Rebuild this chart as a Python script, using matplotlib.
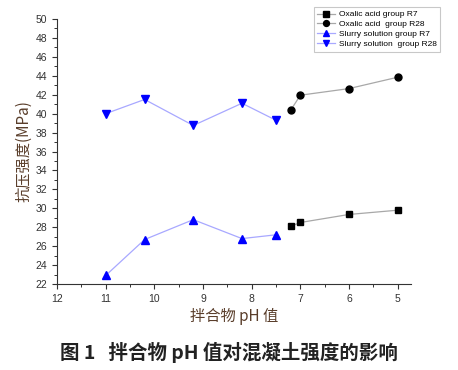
import matplotlib.pyplot as plt
from matplotlib.ticker import MultipleLocator

plt.rcParams['font.family'] = ['Noto Sans CJK SC', 'DejaVu Sans']

# data
ox_ph = [7.2, 7.0, 6.0, 5.0]
ox_r7 = [28.1, 28.5, 29.35, 29.8]
ox_r28 = [40.35, 41.95, 42.65, 43.85]

sl_ph = [11.0, 10.2, 9.2, 8.2, 7.5]
sl_r7 = [22.9, 26.7, 28.8, 26.8, 27.2]
sl_r28 = [40.0, 41.5, 38.75, 41.1, 39.3]

series_names = ["Oxalic acid group R7", "Oxalic acid  group R28",
                "Slurry solution group R7", "Slurry solution  group R28"]

x_label = "拌合物 pH 值"
y_label = "抗压强度(MPa)"
caption = "图 1   拌合物 pH 值对混凝土强度的影响"

fig = plt.figure(figsize=(4.58, 3.70), dpi=100)
ax = fig.add_axes([0.1245, 0.2324, 0.7725, 0.7162])

ax.plot(ox_ph, ox_r7, color="#a8a8a8", lw=0.9, marker="s", ms=4.5,
        mfc="black", mec="black", label=series_names[0])
ax.plot(ox_ph, ox_r28, color="#a8a8a8", lw=0.9, marker="o", ms=5,
        mfc="black", mec="black", label=series_names[1])
ax.plot(sl_ph, sl_r7, color="#a8a8ff", lw=0.9, marker="^", ms=5.5,
        mfc="#0000ff", mec="#0000ff", label=series_names[2])
ax.plot(sl_ph, sl_r28, color="#a8a8ff", lw=0.9, marker="v", ms=5.5,
        mfc="#0000ff", mec="#0000ff", label=series_names[3])

ax.set_xlim(12, 4.73)
ax.set_ylim(22, 50)
ax.xaxis.set_major_locator(MultipleLocator(1))
ax.xaxis.set_minor_locator(MultipleLocator(0.5))
ax.yaxis.set_major_locator(MultipleLocator(2))
ax.yaxis.set_minor_locator(MultipleLocator(1))

for side in ["top", "right"]:
    ax.spines[side].set_visible(False)
for side in ["left", "bottom"]:
    ax.spines[side].set_color("#333333")
    ax.spines[side].set_linewidth(0.8)

ax.tick_params(which="major", length=3.5, width=0.8, labelsize=7.5,
               colors="#333333", direction="out")
ax.tick_params(which="minor", length=2, width=0.7, colors="#333333", direction="out")
for lbl in ax.get_xticklabels() + ax.get_yticklabels():
    lbl.set_family(["Liberation Sans", "DejaVu Sans"])

ax.set_xlabel(x_label, fontsize=11, color="#5a3e2b", labelpad=3)
ax.set_ylabel(y_label, fontsize=11, color="#5a3e2b", labelpad=2)

leg = ax.legend(loc="upper right", bbox_to_anchor=(1.094, 1.06), fontsize=6,
                frameon=True, fancybox=False, edgecolor="#bbbbbb",
                handlelength=2.2, handletextpad=0.4, labelspacing=0.25,
                borderpad=0.4, markerscale=0.85)
leg.get_frame().set_linewidth(0.8)
for t in leg.get_texts():
    t.set_family(["Liberation Sans", "DejaVu Sans"])

fig.text(0.5, 0.048, caption, ha="center", va="center", fontsize=14,
         fontweight="bold", color="#222222")

fig.savefig("out.png", dpi=100)
